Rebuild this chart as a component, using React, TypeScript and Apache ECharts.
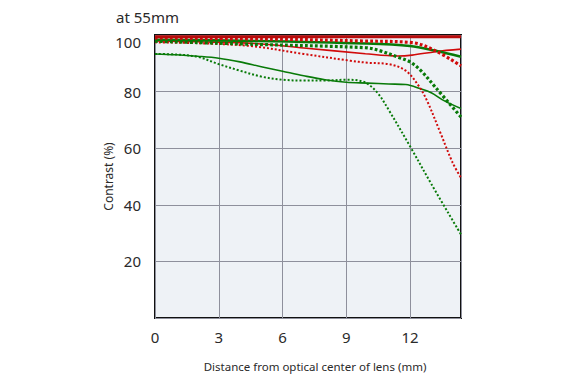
import React, { useEffect, useRef } from "react";
import * as echarts from "echarts";

const xTicks = [0, 3, 6, 9, 12];
const yTicks = [20, 40, 60, 80, 100];

const redSolidThickX = [0, 3, 6, 9, 12, 14.4];
const redSolidThickY = [99.4, 99.4, 99.4, 99.4, 99.4, 99.4];

const redSolidThinX = [0, 2, 4.7, 7, 9.9, 11.4, 12.1, 13.2, 14.4];
const redSolidThinY = [97.9, 97.6, 97.0, 95.4, 93.4, 92.6, 92.9, 94.1, 95.0];

const greenSolidThickX = [0, 4.7, 9.9, 12, 13.2, 14.4];
const greenSolidThickY = [98.3, 97.9, 97.0, 96.1, 94.4, 92.3];

const greenDottedThickX = [0, 4.7, 9.9, 10.6, 11.5, 12.0, 12.5, 13.2, 14.4];
const greenDottedThickY = [97.8, 96.7, 95.5, 94.4, 92.0, 90.5, 87.5, 81.5, 71];

const redDottedThickX = [0, 6, 9.6, 12.1, 13.2, 14.4];
const redDottedThickY = [99.0, 98.5, 97.9, 97.3, 94.4, 89.1];

const redDottedThinX = [0, 2, 4.5, 7, 9.2, 10, 11, 11.8, 12.4, 12.8, 13.4, 14, 14.4];
const redDottedThinY = [97.4, 97.1, 96.1, 93.3, 90.9, 90.2, 89.7, 87.4, 82.1, 76.8, 66, 55, 49.5];

const greenSolidThinX = [0, 1, 2, 3, 4, 5, 6, 7, 8, 9, 10, 11, 11.8, 12.5, 13, 13.6, 14.4];
const greenSolidThinY = [93.3, 93.0, 92.5, 91.8, 90.5, 88.8, 87.2, 85.6, 84.2, 83.3, 83.0, 82.7, 82.5, 81, 79.6, 76.8, 74.0];

const greenDottedThinX = [0, 1, 2, 3, 4, 5, 6, 7, 8, 9, 9.6, 10, 10.5, 11, 12, 13, 14.4];
const greenDottedThinY = [93.3, 93.1, 92.3, 89.7, 87.4, 85.3, 84.2, 83.9, 83.9, 84.2, 83.9, 82.8, 79.3, 73.5, 60.7, 47.4, 29.5];

const RED = "#d10a0a";
const DARKRED = "#b80c0c";
const GREEN = "#087a08";
const FONT = "Noto Sans";

function pairs(xs: number[], ys: number[]) {
  return xs.map((x, i) => [x, ys[i]]);
}

function line(name: string, xs: number[], ys: number[], color: string, width: number, dash: any, z: number) {
  return {
    name,
    type: "line",
    data: pairs(xs, ys),
    smooth: 0.35,
    showSymbol: false,
    symbol: "none",
    z,
    lineStyle: { color, width, type: dash, cap: "butt" },
  };
}

export default function App() {
  const ref = useRef<HTMLDivElement>(null);
  useEffect(() => {
    document.body.style.margin = "0";
    const chart = echarts.init(ref.current!, null, { renderer: "svg" });
    chart.setOption({
      animation: false,
      backgroundColor: "#ffffff",
      title: {
        text: "at 55mm",
        left: 111,
        top: 4,
        textStyle: { fontFamily: FONT, fontSize: 15, fontWeight: "normal", color: "#2a2a2a" },
      },
      grid: {
        left: 155,
        right: 116,
        top: 35,
        bottom: 64,
        show: true,
        backgroundColor: "#eef2f6",
        borderColor: "#111",
        borderWidth: 2,
        z: 0,
      },
      xAxis: {
        type: "value",
        min: 0,
        max: 14.4,
        interval: 3,
        name: "Distance from optical center of lens (mm)",
        nameLocation: "middle",
        nameGap: 42,
        nameMoveOverlap: false,
        nameTextStyle: { fontFamily: FONT, fontSize: 11.5, color: "#2a2a2a", padding: [0, 0, 0, 14] },
        axisLine: { show: false },
        axisTick: { show: false },
        axisLabel: {
          margin: 11,
          fontFamily: FONT,
          fontSize: 15,
          color: "#2a2a2a",
          showMaxLabel: false,
          formatter: (v: number) => (xTicks.includes(v) ? String(v) : ""),
        },
        splitLine: { show: true, lineStyle: { color: "#8e909c", width: 1 } },
      },
      yAxis: {
        type: "value",
        min: 0,
        max: 100,
        interval: 20,
        name: "Contrast (%)",
        nameLocation: "middle",
        nameGap: 41,
        nameMoveOverlap: false,
        nameTextStyle: { fontFamily: FONT, fontSize: 12, color: "#2a2a2a" },
        axisLine: { show: false },
        axisTick: { show: false },
        axisLabel: {
          margin: 14,
          fontFamily: FONT,
          fontSize: 15,
          color: "#2a2a2a",
          formatter: (v: number) =>
            v === 100 ? "{t|100}" : yTicks.includes(v) ? String(v) : "",
          rich: {
            t: { fontFamily: FONT, fontSize: 15, color: "#2a2a2a", padding: [14, 0, 0, 0] },
          },
        },
        splitLine: { show: true, lineStyle: { color: "#8e909c", width: 1 } },
      },
      series: [
        line("gst", greenSolidThinX, greenSolidThinY, GREEN, 1.6, "solid", 2),
        line("gdt", greenDottedThinX, greenDottedThinY, GREEN, 2, [2, 2], 2),
        line("rdt", redDottedThinX, redDottedThinY, RED, 2, [2, 2], 3),
        line("rst", redSolidThinX, redSolidThinY, RED, 1.6, "solid", 3),
        line("gdT", greenDottedThickX, greenDottedThickY, GREEN, 3.2, [2.8, 2.2], 4),
        line("gsT", greenSolidThickX, greenSolidThickY, GREEN, 2.6, "solid", 4),
        line("rdT", redDottedThickX, redDottedThickY, RED, 3.2, [2.8, 2.2], 5),
        line("rsT", redSolidThickX, redSolidThickY, DARKRED, 3, "solid", 6),
      ],
    });
    return () => chart.dispose();
  }, []);
  return <div ref={ref} style={{ width: 577, height: 382 }} />;
}
